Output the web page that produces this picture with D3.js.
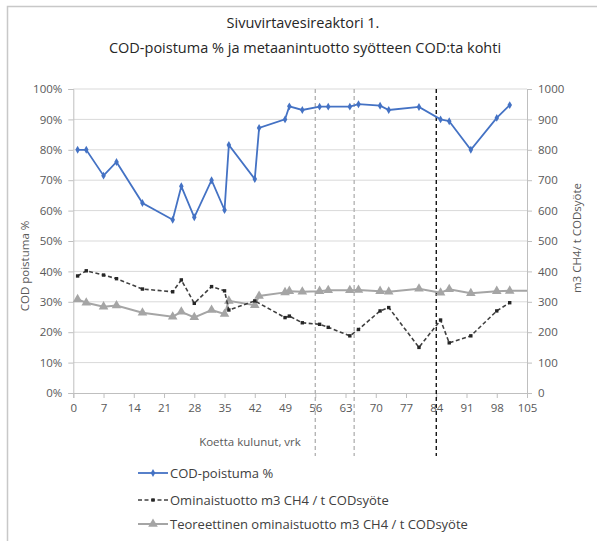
<!DOCTYPE html>
<html>
<head>
<meta charset="utf-8">
<script src="https://cdn.jsdelivr.net/npm/d3@7"></script>
<style>
  body{margin:0;background:#fff;}
  svg text{font-family:"Open Sans","Noto Sans",sans-serif;}
</style>
</head>
<body>
<svg id="chart" width="597" height="541"></svg>
<script>
// data
const codDays=[1,3,7,10,16,23,25,28,32,35,36,42,43,49,50,53,57,59,64,66,71,73,80,85,87,92,98,101];
const codPct=[80,80,71.5,76,62.5,57,68,57.8,70,60.2,81.6,70.4,87.2,90,94.3,93.1,94.2,94.2,94.2,95,94.5,93.1,94.1,90,89.4,80,90.5,94.7];

const yieldDays=[1,3,7,10,16,23,25,28,32,35,36,42,49,50,53,57,59,64,66,71,73,80,85,87,92,98,101];
const yieldVals=[385,402,388,376,342,333,372,295,350,336,273,303,248,253,231,226,216,188,209,270,281,150,240,165,188,270,297];

const theoryDays=[1,3,7,10,16,23,25,28,32,35,36,42,43,49,50,53,57,59,64,66,71,73,80,85,87,92,98,101,105];
const theoryVals=[308,297,284,288,264,251,267,249,273,260,303,289,319,331,335,333,335,338,338,339,335,333,343,330,341,328,335,336,336];
const theoryMarked=theoryDays.map(d=>d<=101);

const xTicks=d3.range(0,106,7);
const pctTicks=d3.range(0,1.01,0.1);
const rightTicks=d3.range(0,1001,100);
const phaseDays=[56,65,84];
const phaseColors=["#b0b0b0","#b0b0b0","#000000"];

const legendNames=["COD-poistuma %","Ominaistuotto m3 CH4 / t CODsyöte","Teoreettinen ominaistuotto m3 CH4 / t CODsyöte"];

const svg=d3.select("#chart");
const plotL=73.3,plotR=527,plotT=89,plotB=393;

// frame
svg.append("rect").attr("x",7.5).attr("y",6.5).attr("width",700).attr("height",700)
  .attr("fill","none").attr("stroke","#c8c8c8").attr("stroke-width",1.5);

// title
svg.append("text").attr("x",303).attr("y",28).attr("text-anchor","middle")
  .attr("font-size",14.5).attr("fill","#262626").text("Sivuvirtavesireaktori 1.");
svg.append("text").attr("x",305).attr("y",53).attr("text-anchor","middle")
  .attr("font-size",14.5).attr("fill","#262626").text("COD-poistuma % ja metaanintuotto syötteen COD:ta kohti");

const x=d3.scaleLinear().domain([0,105]).range([plotL,plotR]);
const yL=d3.scaleLinear().domain([0,1]).range([plotB,plotT]);
const yR=d3.scaleLinear().domain([0,1000]).range([plotB,plotT]);

// grid
svg.append("g").selectAll("line").data(pctTicks.slice(1)).join("line")
  .attr("x1",plotL).attr("x2",plotR)
  .attr("y1",d=>yL(d)).attr("y2",d=>yL(d))
  .attr("stroke","#d9d9d9").attr("stroke-width",1);

function styleAxis(g){
  g.select(".domain").attr("stroke","#bfbfbf");
  g.selectAll(".tick line").attr("stroke","#bfbfbf");
  g.selectAll(".tick text").attr("fill","#595959").attr("font-size",11.5)
    .attr("font-family","'Open Sans','Noto Sans',sans-serif");
}

svg.append("g").attr("transform",`translate(${plotL},0)`)
  .call(d3.axisLeft(yL).tickValues(pctTicks).tickFormat(d3.format(".0%")).tickSizeOuter(0).tickSize(5).tickPadding(6))
  .call(styleAxis);
svg.append("g").attr("transform",`translate(${plotR},0)`)
  .call(d3.axisRight(yR).tickValues(rightTicks).tickFormat(d3.format("d")).tickSizeOuter(0).tickSize(5).tickPadding(6))
  .call(styleAxis);
svg.append("g").attr("transform",`translate(0,${plotB})`)
  .call(d3.axisBottom(x).tickValues(xTicks).tickSizeOuter(0).tickSize(5).tickPadding(6))
  .call(styleAxis);

// axis titles
svg.append("text").attr("transform","translate(29,266) rotate(-90)").attr("text-anchor","middle")
  .attr("font-size",11.5).attr("fill","#595959").text("COD poistuma %");
svg.append("text").attr("transform","translate(581,238) rotate(-90)").attr("text-anchor","middle")
  .attr("font-size",11.5).attr("fill","#595959").text("m3 CH4/ t CODsyöte");
svg.append("text").attr("x",250).attr("y",446).attr("text-anchor","middle")
  .attr("font-size",11.5).attr("fill","#595959").text("Koetta kulunut, vrk");

// phase lines
svg.append("g").selectAll("line").data(phaseDays).join("line")
  .attr("x1",d=>x(d)).attr("x2",d=>x(d)).attr("y1",plotT).attr("y2",456)
  .attr("stroke",(d,i)=>phaseColors[i]).attr("stroke-width",1.3).attr("stroke-dasharray","4,3");

// series
const codData=codDays.map((d,i)=>({d,v:codPct[i]/100}));
const yieldData=yieldDays.map((d,i)=>({d,v:yieldVals[i]}));
const theoryData=theoryDays.map((d,i)=>({d,v:theoryVals[i],m:theoryMarked[i]}));

svg.append("path").datum(theoryData)
  .attr("d",d3.line().x(p=>x(p.d)).y(p=>yR(p.v)))
  .attr("fill","none").attr("stroke","#a5a5a5").attr("stroke-width",2);
svg.append("g").selectAll("path").data(theoryData.filter(p=>p.m)).join("path")
  .attr("d",d3.symbol(d3.symbolTriangle,40)())
  .attr("transform",p=>`translate(${x(p.d)},${yR(p.v)})`)
  .attr("fill","#a5a5a5");

svg.append("path").datum(yieldData)
  .attr("d",d3.line().x(p=>x(p.d)).y(p=>yR(p.v)))
  .attr("fill","none").attr("stroke","#404040").attr("stroke-width",1.6).attr("stroke-dasharray","4,2.5");
svg.append("g").selectAll("rect").data(yieldData).join("rect")
  .attr("x",p=>x(p.d)-1.7).attr("y",p=>yR(p.v)-1.7).attr("width",3.4).attr("height",3.4)
  .attr("fill","#262626");

svg.append("path").datum(codData)
  .attr("d",d3.line().x(p=>x(p.d)).y(p=>yL(p.v)))
  .attr("fill","none").attr("stroke","#4472c4").attr("stroke-width",1.8);
svg.append("g").selectAll("path").data(codData).join("path")
  .attr("d",d3.symbol(d3.symbolDiamond,18)())
  .attr("transform",p=>`translate(${x(p.d)},${yL(p.v)})`)
  .attr("fill","#4472c4");

// legend
const legY=[473,500,524];
const leg=svg.append("g");
const legRows=leg.selectAll("g").data(legendNames).join("g")
  .attr("transform",(d,i)=>`translate(138,${legY[i]})`);
legRows.append("line").attr("x1",0).attr("x2",30).attr("y1",0).attr("y2",0)
  .attr("stroke",(d,i)=>["#4472c4","#404040","#a5a5a5"][i])
  .attr("stroke-width",(d,i)=>[1.8,1.6,2][i])
  .attr("stroke-dasharray",(d,i)=>i===1?"4,2.5":null);
legRows.each(function(d,i){
  const g=d3.select(this);
  if(i===0) g.append("path").attr("d",d3.symbol(d3.symbolDiamond,18)()).attr("transform","translate(15,0)").attr("fill","#4472c4");
  if(i===1) g.append("rect").attr("x",13.3).attr("y",-1.7).attr("width",3.4).attr("height",3.4).attr("fill","#262626");
  if(i===2) g.append("path").attr("d",d3.symbol(d3.symbolTriangle,40)()).attr("transform","translate(15,0)").attr("fill","#a5a5a5");
});
legRows.append("text").attr("x",32).attr("y",4.5).attr("font-size",13).attr("fill","#404040").text(d=>d);
</script>
</body>
</html>
